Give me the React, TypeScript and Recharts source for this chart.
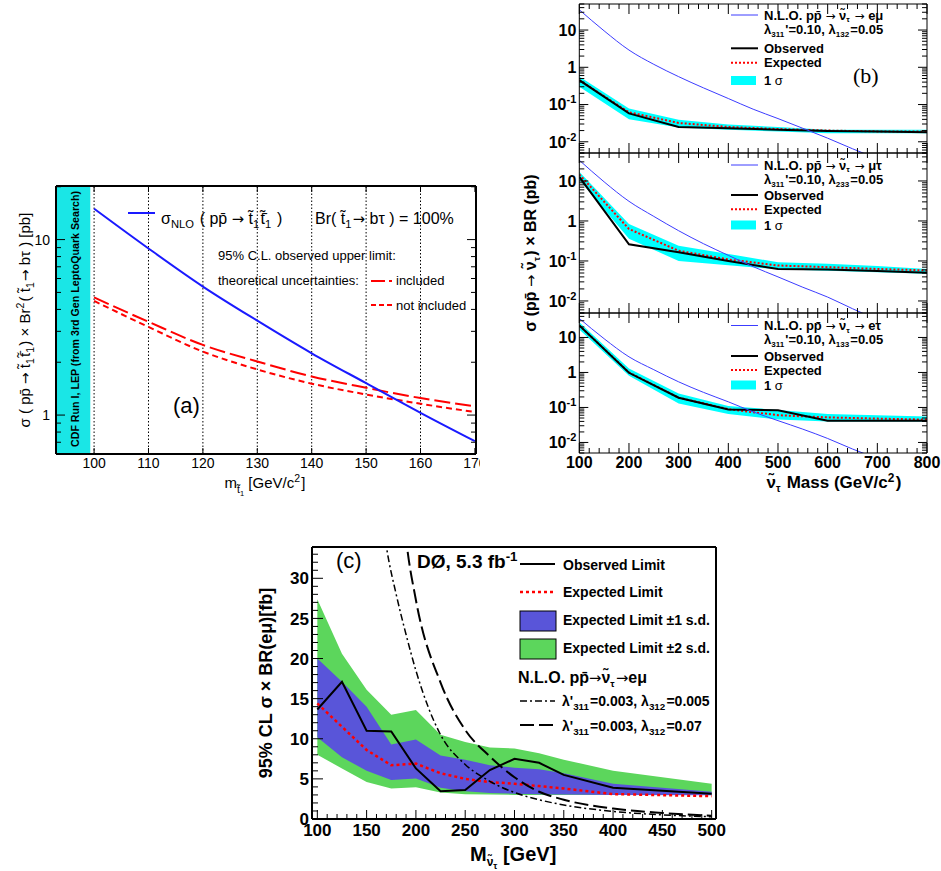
import React from 'react';
import { ComposedChart, Line, Area, XAxis, YAxis, ReferenceLine, ReferenceArea } from 'recharts';

const FONT = '"Liberation Sans", Arial, Helvetica, sans-serif';
const SERIF = '"Liberation Serif", "Times New Roman", serif';
const SYMBOL = '"DejaVu Sans", sans-serif';

/* ---------- Panel (a): stop pair cross section vs limit ---------- */
const stopMass = [100, 110, 120, 130, 140, 150, 160, 170];
const stopSigmaNLO = [15, 8.9, 5.4, 3.45, 2.25, 1.52, 1.03, 0.71];
const stopLimitIncluded = [4.68, 3.4, 2.51, 2.02, 1.66, 1.43, 1.25, 1.12];
const stopLimitNotIncluded = [4.47, 3.18, 2.3, 1.82, 1.51, 1.31, 1.16, 1.04];
const stopExcludedUpTo = 99.3;
const stopMassTicks = [100, 110, 120, 130, 140, 150, 160, 170];
const stopGridMasses = [100, 110, 120, 130, 140, 150, 160];
const stopSigmaLabels = [1, 10];

/* ---------- Panel (b): sneutrino limits (three channels) ---------- */
const snuMass = [100, 200, 300, 400, 500, 600, 700, 800];
const emuObserved = [0.45, 0.058, 0.025, 0.023, 0.021, 0.0195, 0.019, 0.018];
const emuExpected = [0.45, 0.062, 0.032, 0.025, 0.022, 0.02, 0.019, 0.019];
const emuBandLow = [0.3, 0.04, 0.024, 0.021, 0.019, 0.017, 0.017, 0.017];
const emuBandHigh = [0.57, 0.078, 0.039, 0.029, 0.025, 0.021, 0.021, 0.021];
const mutauObserved = [12.6, 0.26, 0.165, 0.1, 0.063, 0.061, 0.056, 0.051];
const mutauExpected = [14.6, 0.63, 0.18, 0.109, 0.077, 0.07, 0.063, 0.058];
const mutauBandLow = [10.5, 0.36, 0.1, 0.078, 0.062, 0.057, 0.052, 0.048];
const mutauBandHigh = [17, 0.84, 0.24, 0.15, 0.093, 0.085, 0.075, 0.063];
const etauObserved = [22, 0.98, 0.19, 0.088, 0.083, 0.042, 0.042, 0.042];
const etauExpected = [22, 1.0, 0.19, 0.09, 0.06, 0.052, 0.048, 0.045];
const etauBandLow = [17, 0.8, 0.13, 0.065, 0.045, 0.04, 0.04, 0.04];
const etauBandHigh = [27, 1.3, 0.25, 0.11, 0.085, 0.065, 0.06, 0.055];
const nloMass = [100, 150, 200, 250, 300, 350, 400, 450, 500, 550, 600, 650, 700];
const emuNLO = [35, 9.5, 2.9, 1.2, 0.56, 0.28, 0.145, 0.075, 0.042, 0.023, 0.0125, 0.0065, 0.0035];
const mutauNLO = [33, 9.5, 3.1, 1.3, 0.57, 0.27, 0.138, 0.072, 0.04, 0.022, 0.0125, 0.0064, 0.0034];
const etauNLO = [35, 9.2, 2.8, 1.2, 0.54, 0.27, 0.145, 0.075, 0.042, 0.024, 0.013, 0.0065, 0.0035];
const snuMassTicks = [100, 200, 300, 400, 500, 600, 700, 800];
const snuSigmaLabels = [0.01, 0.1, 1, 10];

/* ---------- Panel (c): D0 e-mu limit ---------- */
const d0Mass = [100, 125, 150, 175, 200, 225, 250, 275, 300, 325, 350, 400, 500];
const d0Observed = [13.65, 17.1, 11.0, 10.9, 6.3, 3.45, 3.6, 6.1, 7.5, 7.0, 5.5, 3.9, 3.15];
const d0Expected = [14.4, 11.5, 8.6, 6.7, 6.9, 5.7, 5.0, 4.6, 4.4, 4.1, 3.8, 3.1, 2.85];
const d0OneSigmaLow = [10.2, 7.7, 6.0, 4.85, 5.05, 3.9, 3.45, 3.25, 3.15, 3.1, 3.05, 3.0, 2.95];
const d0OneSigmaHigh = [20.0, 17.1, 14.0, 9.3, 9.9, 7.9, 7.4, 6.7, 6.4, 6.2, 5.7, 4.4, 3.4];
const d0TwoSigmaLow = [8.0, 6.3, 4.6, 3.8, 3.95, 3.3, 3.1, 3.05, 3.0, 3.0, 3.0, 3.0, 3.0];
const d0TwoSigmaHigh = [27.4, 20.6, 16.1, 13.0, 13.6, 10.5, 9.6, 8.9, 8.8, 8.2, 7.4, 6.0, 4.4];
const d0TheoryMass = [160, 170, 180, 190, 200, 225, 250, 275, 300, 325, 350, 400, 450, 500];
const d0TheoryLambda005 = [44, 34, 28, 23, 18.5, 10.5, 6.8, 4.7, 3.3, 2.4, 1.75, 0.95, 0.52, 0.28];
const d0TheoryLambda07 = [90, 70, 50, 35, 27.3, 17, 11.1, 7.8, 5.2, 3.4, 2.4, 1.3, 0.75, 0.4];
const d0MassTicks = [100, 150, 200, 250, 300, 350, 400, 450, 500];
const d0LimitTicks = [0, 5, 10, 15, 20, 25, 30];

const D0_BLUE = '#5955d9';
const D0_GREEN = '#5cd65c';

/* ---------- helpers ---------- */
const r6 = (v: number) => Number(v.toPrecision(6));
function logTicks(lo: number, hi: number) {
  const out: number[] = [];
  for (let e = Math.floor(Math.log10(lo)); e <= Math.ceil(Math.log10(hi)); e++) {
    for (let k = 1; k <= 9; k++) {
      const v = r6(k * Math.pow(10, e));
      if (v >= lo * 0.9999 && v <= hi * 1.0001) out.push(v);
    }
  }
  return out;
}
function linTicks(lo: number, hi: number, step: number) {
  const out: number[] = [];
  for (let i = 0; lo + i * step <= hi + 1e-9; i++) out.push(r6(lo + i * step));
  return out;
}
function near(a: number, b: number) {
  return Math.abs(a - b) <= 1e-6 * Math.max(1, Math.abs(a));
}
function marginFor(L: number, T: number, W: number, H: number, p: any) {
  return { left: p.x0 - L - 1, top: p.y0 - T - 1, right: L + W - p.x1 - 1, bottom: T + H - p.y1 - 1 };
}

type TickCfg = {
  side: 'bottom' | 'top' | 'left' | 'right';
  majors: number[];
  majorLen: number;
  minorLen: number;
  labels?: boolean;
  fmt?: (v: number) => React.ReactNode;
  fontSize?: number;
  fontWeight?: any;
  offset?: number;
};
function makeTick(cfg: TickCfg) {
  return function Tick(props: any) {
    const { x, y, payload } = props;
    const v = Number(payload?.value);
    const major = cfg.majors.some((m) => near(m, v));
    const len = major ? cfg.majorLen : cfg.minorLen;
    let x2 = x;
    let y2 = y;
    if (cfg.side === 'bottom') y2 = y - len;
    else if (cfg.side === 'top') y2 = y + len;
    else if (cfg.side === 'left') x2 = x + len;
    else x2 = x - len;
    const fs = cfg.fontSize ?? 13;
    let label: React.ReactNode = null;
    if (cfg.labels && major) {
      const content = cfg.fmt ? cfg.fmt(v) : String(v);
      if (cfg.side === 'bottom') {
        label = (
          <text x={x} y={y + (cfg.offset ?? 14)} textAnchor="middle" fontSize={fs} fontWeight={cfg.fontWeight} fontFamily={FONT} fill="#000">
            {content}
          </text>
        );
      } else if (cfg.side === 'left') {
        label = (
          <text x={x - (cfg.offset ?? 4)} y={y + fs * 0.36} textAnchor="end" fontSize={fs} fontWeight={cfg.fontWeight} fontFamily={FONT} fill="#000">
            {content}
          </text>
        );
      }
    }
    return (
      <g>
        {len > 0 && <line x1={x} y1={y} x2={x2} y2={y2} stroke="#000" strokeWidth={1} />}
        {label}
      </g>
    );
  };
}

function Sub({ children, d = 4, fs = '0.7em' }: any) {
  return (
    <>
      <tspan dy={d} fontSize={fs}>{children}</tspan>
      <tspan dy={-d}>{'\u200A'}</tspan>
    </>
  );
}
function Sup({ children, d = 6, fs = '0.7em' }: any) {
  return (
    <>
      <tspan dy={-d} fontSize={fs}>{children}</tspan>
      <tspan dy={d}>{'\u200A'}</tspan>
    </>
  );
}
function Arr() {
  return (
    <tspan fontFamily={SYMBOL} fontWeight="normal" fontSize="0.92em">
      {'\u2192'}
    </tspan>
  );
}
const NU_TILDE = '\u03bd\u0303';

const powLabel = (v: number): React.ReactNode => {
  if (near(v, 1)) return '1';
  if (near(v, 10)) return '10';
  const e = Math.round(Math.log10(v));
  return (
    <>
      10<tspan dy={-7} fontSize={11}>{String(e)}</tspan>
    </>
  );
};

/* ---------- Panel (a) ---------- */
function PanelA() {
  const L = 0, T = 176, W = 480, H = 324;
  const plot = { x0: 56, x1: 476, y0: 186, y1: 454 };
  const data = stopMass.map((m, i) => ({ m, nlo: stopSigmaNLO[i], incl: stopLimitIncluded[i], notIncl: stopLimitNotIncluded[i] }));
  const xDom: [number, number] = [93, 170.2];
  const yDom: [number, number] = [0.6, 20.2];
  const yTicks = logTicks(yDom[0], yDom[1]);
  const axisLine = { stroke: '#000', strokeWidth: 2 };
  return (
    <div style={{ position: 'absolute', left: L, top: T }}>
      <ComposedChart width={W} height={H} data={data} margin={marginFor(L, T, W, H, plot)}>
        <XAxis dataKey="m" type="number" domain={xDom} allowDataOverflow ticks={stopMassTicks} interval={0} height={1}
          tickLine={false} tickSize={0} tickMargin={0} axisLine={axisLine}
          tick={makeTick({ side: 'bottom', majors: stopMassTicks, majorLen: 6, minorLen: 3, labels: true, fontSize: 14, offset: 14 })} />
        <XAxis xAxisId="top" orientation="top" dataKey="m" type="number" domain={xDom} allowDataOverflow ticks={stopMassTicks} interval={0} height={1}
          tickLine={false} tickSize={0} tickMargin={0} axisLine={axisLine}
          tick={makeTick({ side: 'top', majors: stopMassTicks, majorLen: 6, minorLen: 3 })} />
        <YAxis type="number" scale="log" domain={yDom} allowDataOverflow ticks={yTicks} interval={0} width={1}
          tickLine={false} tickSize={0} tickMargin={0} axisLine={axisLine}
          tick={makeTick({ side: 'left', majors: stopSigmaLabels, majorLen: 9, minorLen: 5, labels: true, fontSize: 14, offset: 6 })} />
        <YAxis yAxisId="r" orientation="right" type="number" scale="log" domain={yDom} allowDataOverflow ticks={yTicks} interval={0} width={1}
          tickLine={false} tickSize={0} tickMargin={0} axisLine={axisLine}
          tick={makeTick({ side: 'right', majors: stopSigmaLabels, majorLen: 9, minorLen: 5 })} />
        <ReferenceArea x1={xDom[0]} x2={stopExcludedUpTo} fill="#1ae6e6" fillOpacity={1} stroke="none" ifOverflow="hidden" />
        {stopGridMasses.map((v) => (
          <ReferenceLine key={v} x={v} stroke="#000" strokeWidth={1} strokeDasharray="1.5 2" />
        ))}
        <Line dataKey="incl" type="monotone" stroke="#ff0000" strokeWidth={2} strokeDasharray="16 5" dot={false} activeDot={false} isAnimationActive={false} />
        <Line dataKey="notIncl" type="monotone" stroke="#ff0000" strokeWidth={2} strokeDasharray="6 4" dot={false} activeDot={false} isAnimationActive={false} />
        <Line dataKey="nlo" type="monotone" stroke="#1a1aff" strokeWidth={2} dot={false} activeDot={false} isAnimationActive={false} />
      </ComposedChart>
    </div>
  );
}

/* ---------- Panel (b) sub-panel ---------- */
function SnuPanel({ T, H, y0, y1, obs, exp, lo, hi, nlo, xLabels }: any) {
  const L = 500, W = 441;
  const plot = { x0: 579.3, x1: 927, y0, y1 };
  const data = snuMass.map((m, i) => ({ m, obs: obs[i], exp: exp[i], band: [lo[i], hi[i]] }));
  const nloData = nloMass.map((m, i) => ({ m, nlo: nlo[i] }));
  const xDom: [number, number] = [100, 800];
  const yDom: [number, number] = [0.005, 50];
  const xTicks = linTicks(100, 800, 20);
  const yTicks = logTicks(yDom[0], yDom[1]);
  const axisLine = { stroke: '#000', strokeWidth: 1 };
  return (
    <div style={{ position: 'absolute', left: L, top: T }}>
      <ComposedChart width={W} height={H} data={data} margin={marginFor(L, T, W, H, plot)}>
        <XAxis dataKey="m" type="number" domain={xDom} allowDataOverflow ticks={xTicks} interval={0} height={1}
          tickLine={false} tickSize={0} tickMargin={0} axisLine={axisLine}
          tick={makeTick({ side: 'bottom', majors: snuMassTicks, majorLen: 10, minorLen: 5, labels: xLabels, fontSize: 16, fontWeight: 'bold', offset: 15 })} />
        <XAxis xAxisId="top" orientation="top" dataKey="m" type="number" domain={xDom} allowDataOverflow ticks={xTicks} interval={0} height={1}
          tickLine={false} tickSize={0} tickMargin={0} axisLine={axisLine}
          tick={makeTick({ side: 'top', majors: snuMassTicks, majorLen: 10, minorLen: 5 })} />
        <YAxis type="number" scale="log" domain={yDom} allowDataOverflow ticks={yTicks} interval={0} width={1}
          tickLine={false} tickSize={0} tickMargin={0} axisLine={axisLine}
          tick={makeTick({ side: 'left', majors: snuSigmaLabels, majorLen: 9, minorLen: 5, labels: true, fontSize: 16, fontWeight: 'bold', offset: 3, fmt: powLabel })} />
        <YAxis yAxisId="r" orientation="right" type="number" scale="log" domain={yDom} allowDataOverflow ticks={yTicks} interval={0} width={1}
          tickLine={false} tickSize={0} tickMargin={0} axisLine={axisLine}
          tick={makeTick({ side: 'right', majors: snuSigmaLabels, majorLen: 9, minorLen: 5 })} />
        <Area dataKey="band" type="linear" fill="#00ffff" fillOpacity={1} stroke="none" dot={false} activeDot={false} isAnimationActive={false} />
        <Line dataKey="exp" type="linear" stroke="#ff0000" strokeWidth={2} strokeDasharray="2 2" dot={false} activeDot={false} isAnimationActive={false} />
        <Line dataKey="obs" type="linear" stroke="#000" strokeWidth={2} dot={false} activeDot={false} isAnimationActive={false} />
        <Line data={nloData} dataKey="nlo" type="monotone" stroke="#3c3cff" strokeWidth={1} dot={false} activeDot={false} isAnimationActive={false} />
      </ComposedChart>
    </div>
  );
}

/* ---------- Panel (c) ---------- */
function PanelC() {
  const L = 250, T = 535, W = 480, H = 336;
  const plot = { x0: 312, x1: 716, y0: 547, y1: 819 };
  const data = d0Mass.map((m, i) => ({
    m,
    obs: d0Observed[i],
    exp: d0Expected[i],
    one: [d0OneSigmaLow[i], d0OneSigmaHigh[i]],
    two: [d0TwoSigmaLow[i], d0TwoSigmaHigh[i]],
  }));
  const theory = d0TheoryMass.map((m, i) => ({ m, a: d0TheoryLambda005[i], b: d0TheoryLambda07[i] }));
  const xDom: [number, number] = [94.6, 504.4];
  const yDom: [number, number] = [0, 33.9];
  const xTicks = linTicks(100, 500, 10);
  const yTicks = linTicks(0, 33, 1);
  const axisLine = { stroke: '#000', strokeWidth: 2 };
  return (
    <div style={{ position: 'absolute', left: L, top: T }}>
      <ComposedChart width={W} height={H} data={data} margin={marginFor(L, T, W, H, plot)}>
        <XAxis dataKey="m" type="number" domain={xDom} allowDataOverflow ticks={xTicks} interval={0} height={1}
          tickLine={false} tickSize={0} tickMargin={0} axisLine={axisLine}
          tick={makeTick({ side: 'bottom', majors: d0MassTicks, majorLen: 9, minorLen: 5, labels: true, fontSize: 17, fontWeight: 'bold', offset: 17 })} />
        <XAxis xAxisId="top" orientation="top" dataKey="m" type="number" domain={xDom} allowDataOverflow height={1}
          tickLine={false} tick={false} axisLine={axisLine} />
        <YAxis type="number" domain={yDom} allowDataOverflow ticks={yTicks} interval={0} width={1}
          tickLine={false} tickSize={0} tickMargin={0} axisLine={axisLine}
          tick={makeTick({ side: 'left', majors: d0LimitTicks, majorLen: 11, minorLen: 6, labels: true, fontSize: 17, fontWeight: 'bold', offset: 3 })} />
        <YAxis yAxisId="r" orientation="right" type="number" domain={yDom} allowDataOverflow width={1}
          tickLine={false} tick={false} axisLine={axisLine} />
        <Area dataKey="two" type="linear" fill={D0_GREEN} fillOpacity={1} stroke="none" dot={false} activeDot={false} isAnimationActive={false} />
        <Area dataKey="one" type="linear" fill={D0_BLUE} fillOpacity={1} stroke="none" dot={false} activeDot={false} isAnimationActive={false} />
        <Line dataKey="exp" type="linear" stroke="#ff0000" strokeWidth={2.5} strokeDasharray="3 3" dot={false} activeDot={false} isAnimationActive={false} />
        <Line dataKey="obs" type="linear" stroke="#000" strokeWidth={2} dot={false} activeDot={false} isAnimationActive={false} />
        <Line data={theory} dataKey="a" type="monotone" stroke="#000" strokeWidth={1.5} strokeDasharray="7 3 2 3" dot={false} activeDot={false} isAnimationActive={false} />
        <Line data={theory} dataKey="b" type="monotone" stroke="#000" strokeWidth={2} strokeDasharray="14 5" dot={false} activeDot={false} isAnimationActive={false} />
      </ComposedChart>
    </div>
  );
}

/* ---------- text annotations ---------- */
function SnuLegend({ rows, channel, lamA, lamB }: any) {
  const [yN, yL, yO, yE, yS] = rows;
  const tx = 764;
  const bl = (c: number) => c + 4.6;
  return (
    <g fontFamily={FONT} fontSize={13} fontWeight="bold" fill="#000">
      <line x1={731} x2={758} y1={yN} y2={yN} stroke="#3c3cff" strokeWidth={1} />
      <text x={tx} y={bl(yN)}>
        N.L.O. p{'p\u0304'} <Arr /> {NU_TILDE}<Sub d={2.5} fs="0.6em">τ</Sub> <Arr /> {channel}
      </text>
      <text x={tx} y={bl(yL) - 1}>
        λ<Sub d={3} fs="0.62em">{lamA}</Sub>'=0.10, λ<Sub d={3} fs="0.62em">{lamB}</Sub>=0.05
      </text>
      <line x1={731} x2={758} y1={yO} y2={yO} stroke="#000" strokeWidth={2} />
      <text x={tx} y={bl(yO)}>Observed</text>
      <line x1={731} x2={758} y1={yE} y2={yE} stroke="#ff0000" strokeWidth={2} strokeDasharray="2 2" />
      <text x={tx} y={bl(yE)}>Expected</text>
      <rect x={731} y={yS - 4.5} width={25} height={9} fill="#00ffff" />
      <text x={tx} y={bl(yS)}>1<tspan fontWeight="normal"> σ</tspan></text>
    </g>
  );
}

function Overlay() {
  return (
    <svg width={941} height={871} style={{ position: 'absolute', left: 0, top: 0, pointerEvents: 'none' }}>
      {/* Panel (a) */}
      <g fontFamily={FONT} fill="#000">
        <text transform="translate(30,320) rotate(-90)" textAnchor="middle" fontSize={15}>
          σ ( p{'p\u0304'} <Arr /> {'t\u0303'}<Sub>1</Sub>{'t\u0303\u0304'}<Sub>1</Sub>) × Br<Sup>2</Sup>( {'t\u0303'}<Sub>1</Sub><Arr /> bτ ) [pb]
        </text>
        <text transform="translate(79,319) rotate(-90)" textAnchor="middle" fontSize={10.5} fontWeight="bold" textLength={256} lengthAdjust="spacingAndGlyphs">
          CDF Run I, LEP (from 3rd Gen LeptoQuark Search)
        </text>
        <line x1={128} y1={213} x2={155} y2={213} stroke="#1a1aff" strokeWidth={2} />
        <text x={161} y={224} fontSize={16}>
          σ<Sub>NLO</Sub> ( p{'p\u0304'} <Arr /> {'t\u0303'}<Sub>1</Sub>{'t\u0303\u0304'}<Sub>1</Sub> )
        </text>
        <text x={315} y={224} fontSize={16}>
          Br( {'t\u0303'}<Sub>1</Sub><Arr /> bτ ) = 100%
        </text>
        <text x={218} y={260} fontSize={13}>95% C.L. observed upper limit:</text>
        <text x={218} y={285} fontSize={13}>theoretical uncertainties:</text>
        <line x1={371} y1={281} x2={392} y2={281} stroke="#ff0000" strokeWidth={2} strokeDasharray="14 4" />
        <text x={396} y={285} fontSize={13}>included</text>
        <line x1={371} y1={305} x2={392} y2={305} stroke="#ff0000" strokeWidth={2} strokeDasharray="5 3" />
        <text x={396} y={310} fontSize={13}>not included</text>
        <text x={173} y={413} fontSize={22}>(a)</text>
        <text x={265} y={488} textAnchor="middle" fontSize={15}>
          m<tspan dy={5} fontSize="0.7em">{'t\u0303'}</tspan>
          <tspan dy={3} fontSize="0.5em">1</tspan>
          <tspan dy={-8}> [GeV/c</tspan>
          <Sup>2</Sup>]
        </text>
      </g>

      {/* Panel (b) */}
      <g fontFamily={FONT} fill="#000">
        <text transform="translate(536,253) rotate(-90)" textAnchor="middle" fontSize={16} fontWeight="bold">
          σ (p{'p\u0304'} <Arr /> {NU_TILDE}<Sub fs="0.6em">τ</Sub>) × BR (pb)
        </text>
        <text x={834} y={488} textAnchor="middle" fontSize={17} fontWeight="bold">
          {NU_TILDE}<Sub fs="0.6em">τ</Sub> Mass (GeV/c<Sup>2</Sup>)
        </text>
        <text x={853} y={83} fontFamily={SERIF} fontSize={22}>(b)</text>
      </g>
      <SnuLegend rows={[15, 30, 48.3, 62.7, 80.5]} channel="eμ" lamA="311" lamB="132" />
      <SnuLegend rows={[165, 180, 195, 209.3, 225]} channel="μτ" lamA="311" lamB="233" />
      <SnuLegend rows={[325.5, 340.5, 356, 370, 385]} channel="eτ" lamA="311" lamB="133" />

      {/* Panel (c) */}
      <g fontFamily={FONT} fill="#000">
        <text x={336} y={568} fontSize={22}>(c)</text>
        <text x={417} y={568} fontSize={19} fontWeight="bold">
          DØ, 5.3 fb<Sup d={7}>-1</Sup>
        </text>
        <line x1={520} y1={564} x2={555} y2={564} stroke="#000" strokeWidth={2} />
        <text x={563} y={570} fontSize={14} fontWeight="bold">Observed Limit</text>
        <line x1={520} y1={592} x2={555} y2={592} stroke="#ff0000" strokeWidth={2.5} strokeDasharray="3 3" />
        <text x={563} y={597} fontSize={14} fontWeight="bold">Expected Limit</text>
        <rect x={520} y={611} width={36} height={20} fill={D0_BLUE} stroke="#000" strokeWidth={1} />
        <text x={563} y={625} fontSize={14} fontWeight="bold">Expected Limit ±1 s.d.</text>
        <rect x={520} y={639} width={36} height={20} fill={D0_GREEN} stroke="#000" strokeWidth={1} />
        <text x={563} y={653} fontSize={14} fontWeight="bold">Expected Limit ±2 s.d.</text>
        <text x={518} y={683} fontSize={16} fontWeight="bold">
          N.L.O. p{'p\u0304'}<Arr />{NU_TILDE}<Sub fs="0.6em">τ</Sub><Arr />eμ
        </text>
        <line x1={520} y1={701} x2={555} y2={701} stroke="#000" strokeWidth={1.5} strokeDasharray="7 3 2 3" />
        <text x={562} y={706} fontSize={14} fontWeight="bold">
          λ'<Sub>311</Sub>=0.003, λ<Sub>312</Sub>=0.005
        </text>
        <line x1={520} y1={725} x2={555} y2={725} stroke="#000" strokeWidth={2} strokeDasharray="14 5" />
        <text x={562} y={731} fontSize={14} fontWeight="bold">
          λ'<Sub>311</Sub>=0.003, λ<Sub>312</Sub>=0.07
        </text>
        <text transform="translate(272,683) rotate(-90)" textAnchor="middle" fontSize={18} fontWeight="bold">
          95% CL σ × BR(eμ)[fb]
        </text>
        <text x={470} y={861} fontSize={20} fontWeight="bold">
          M<tspan dy={5} fontSize="0.6em">{NU_TILDE}</tspan>
          <tspan dy={3} fontSize="0.45em">τ</tspan>
          <tspan dy={-8}> [GeV]</tspan>
        </text>
      </g>
    </svg>
  );
}

export default function App() {
  return (
    <div style={{ position: 'absolute', left: 0, top: 0, width: 941, height: 871, background: '#fff', overflow: 'hidden' }}>
      <PanelA />
      <SnuPanel T={0} H={160} y0={4} y1={153} obs={emuObserved} exp={emuExpected} lo={emuBandLow} hi={emuBandHigh} nlo={emuNLO} xLabels={false} />
      <SnuPanel T={150} H={170} y0={153} y1={313} obs={mutauObserved} exp={mutauExpected} lo={mutauBandLow} hi={mutauBandHigh} nlo={mutauNLO} xLabels={false} />
      <SnuPanel T={305} H={195} y0={313} y1={453} obs={etauObserved} exp={etauExpected} lo={etauBandLow} hi={etauBandHigh} nlo={etauNLO} xLabels={true} />
      <PanelC />
      <Overlay />
    </div>
  );
}
